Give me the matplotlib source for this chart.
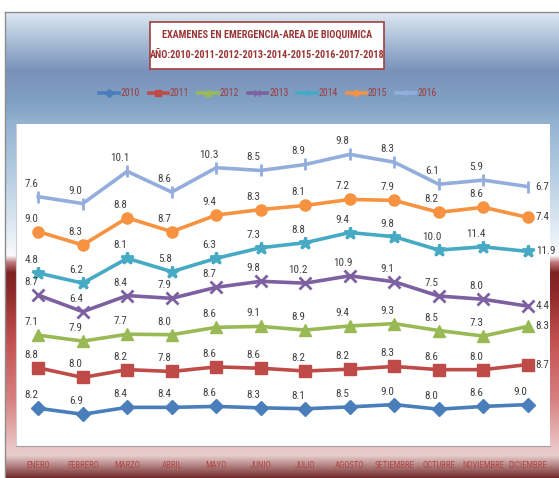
import numpy as np
import matplotlib.pyplot as plt
from matplotlib.patches import Rectangle
from matplotlib.lines import Line2D

plt.rcParams['font.family'] = ['Roboto Condensed', 'DejaVu Sans']

meses = ['ENERO', 'FEBRERO', 'MARZO', 'ABRIL', 'MAYO', 'JUNIO', 'JULIO',
         'AGOSTO', 'SETIEMBRE', 'OCTUBRE', 'NOVIEMBRE', 'DICIEMBRE']
anios = ['2010', '2011', '2012', '2013', '2014', '2015', '2016']

v2010 = [8.2, 6.9, 8.4, 8.4, 8.6, 8.3, 8.1, 8.5, 9.0, 8.0, 8.6, 9.0]
v2011 = [8.8, 8.0, 8.2, 7.8, 8.6, 8.6, 8.2, 8.2, 8.3, 8.6, 8.0, 8.7]
v2012 = [7.1, 7.9, 7.7, 8.0, 8.6, 9.1, 8.9, 9.4, 9.3, 8.5, 7.3, 8.3]
v2013 = [8.7, 6.4, 8.4, 7.9, 8.7, 9.8, 10.2, 10.9, 9.1, 7.5, 8.0, 4.4]
v2014 = [4.8, 6.2, 8.1, 5.8, 6.3, 7.3, 8.8, 9.4, 9.8, 10.0, 11.4, 11.9]
v2015 = [9.0, 8.3, 8.8, 8.7, 9.4, 8.3, 8.1, 7.2, 7.9, 8.2, 8.6, 7.4]
v2016 = [7.6, 9.0, 10.1, 8.6, 10.3, 8.5, 8.9, 9.8, 8.3, 6.1, 5.9, 6.7]
series = [v2010, v2011, v2012, v2013, v2014, v2015, v2016]

colores = ['#4A7EBB', '#BE4B48', '#98B954', '#7D60A0', '#46AAC5', '#F69240', '#93AEDC']
marcas = ['D', 's', '^', 'x', '*', 'o', '|']
tam = [7, 8, 8, 8, 9, 8, 9]

W, H = 559, 478
fig = plt.figure(figsize=(W / 100, H / 100), dpi=100)

# fondo con degradado (estilo Excel)
stops = [(0, (255, 255, 255)), (11, (255, 255, 255)), (12, (222, 232, 242)),
         (40, (170, 190, 215)), (70, (122, 146, 186)), (100, (128, 160, 195)),
         (125, (150, 180, 210)), (180, (185, 208, 228)), (240, (235, 242, 248)),
         (255, (250, 250, 252)), (262, (190, 120, 120)), (272, (125, 35, 35)),
         (290, (140, 40, 40)), (340, (195, 80, 80)), (400, (215, 130, 130)),
         (445, (235, 195, 195)), (455, (232, 205, 205)), (478, (110, 35, 35))]
ys = np.arange(H)
sy = [s[0] for s in stops]
col = np.stack([np.interp(ys, sy, [s[1][k] for s in stops]) for k in range(3)], axis=1) / 255
img = np.repeat(col[:, None, :], W, axis=1)
img[:, :5, :] = 1.0
bg = fig.add_axes([0, 0, 1, 1], zorder=-10)
bg.imshow(img, extent=(0, W, H, 0), aspect='auto')
bg.plot([5, 5], [12, H], color='#8c8c8c', lw=1)
bg.plot([5, W], [12, 12], color='#8c8c8c', lw=1)
bg.set_xlim(0, W)
bg.set_ylim(H, 0)
bg.axis('off')

ax = fig.add_axes([16 / W, 1 - 446 / H, (550 - 16) / W, (446 - 124) / H])
ax.set_facecolor('white')

x = np.arange(len(meses))
base = np.zeros(len(meses))
for i, (v, c, m, s) in enumerate(zip(series, colores, marcas, tam)):
    acum = base + np.array(v)
    mew = 2 if m in ('x', '*', '|') else 1
    ax.plot(x, acum, color=c, lw=2.6, marker=m, ms=s, mec=c, mfc=c, mew=mew,
            solid_joinstyle='round', zorder=3)
    for j, val in enumerate(v):
        if j == len(v) - 1 and i > 0:
            off, ha, va = (8, 0), 'left', 'center'
        else:
            off, ha, va = (-7, 8), 'center', 'bottom'
        ax.annotate(f'{val:.1f}', (x[j], acum[j]), xytext=off, textcoords='offset pixels',
                    ha=ha, va=va, fontsize=8, color='#404040', zorder=4)
    base = acum

ax.set_xlim(-0.5, len(meses) - 0.5)
ax.set_ylim(0, 70)
ax.set_yticks([])
ax.set_xticks(x)
ax.set_xticklabels(meses, fontsize=6.3, color='#B04848')
ax.tick_params(axis='x', length=0, pad=11)
for sp in ['top', 'right']:
    ax.spines[sp].set_visible(False)
ax.spines['left'].set_color('#d0d0d0')
ax.spines['bottom'].set_color('#a0a0a0')

# titulo en recuadro
bg.add_patch(Rectangle((150, 22), 234, 47, facecolor='white', edgecolor='#A04040', lw=1.2))
bg.text(267, 35, 'EXAMENES EN EMERGENCIA-AREA DE BIOQUIMICA', ha='center', va='center',
        fontsize=7.3, fontweight='bold', color='#9B3535')
bg.text(267, 55, 'AÑO:2010-2011-2012-2013-2014-2015-2016-2017-2018', ha='center', va='center',
        fontsize=7.3, fontweight='bold', color='#9B3535')

handles = [Line2D([], [], color=c, lw=2.6, marker=m, ms=4, mec=c, mfc=c)
           for c, m in zip(colores, marcas)]
fig.legend(handles, anios, loc='center', bbox_to_anchor=(268 / W, 1 - 93 / H), ncol=7,
           frameon=False, fontsize=7, labelcolor='#A03C3C', handlelength=2.0,
           handletextpad=0.2, columnspacing=0.9)

fig.savefig('out.png', dpi=100)
plt.close(fig)
